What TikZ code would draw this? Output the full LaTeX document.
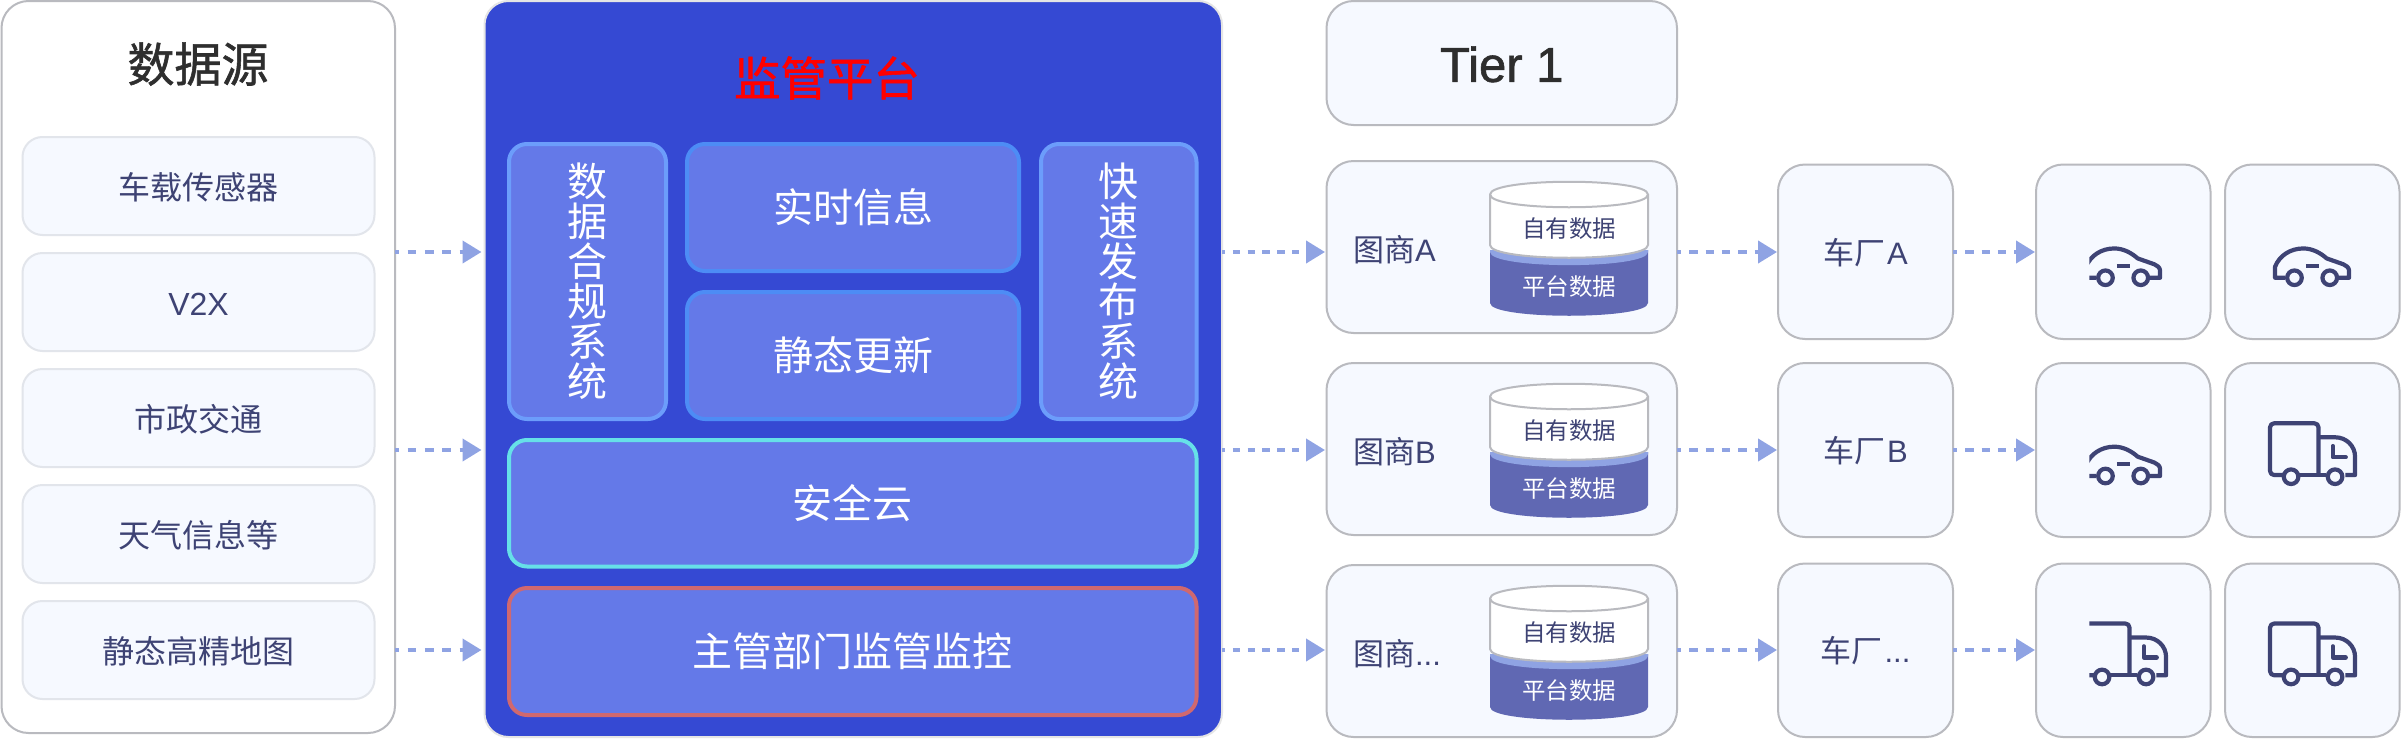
\documentclass[tikz,border=0pt]{standalone}
\usepackage{fontspec}
\usetikzlibrary{arrows.meta}
\newfontfamily\cjk{Noto Sans CJK SC}
\newfontfamily\cjkm{Noto Sans CJK SC}[FakeBold=1.2]
\newfontfamily\lat{Liberation Sans}
\newfontfamily\latm{Liberation Sans}[FakeBold=1.2]
\definecolor{ink}{HTML}{3E4374}
\definecolor{edge}{HTML}{B9BABF}
\definecolor{pale}{HTML}{F6F9FF}
\definecolor{flow}{HTML}{8FA3E3}
\definecolor{plat}{HTML}{3549D3}
\definecolor{tile}{HTML}{6479E8}
\definecolor{dbdark}{HTML}{6068B3}
\newcommand{\bx}[7]{\node[#6,minimum width={(#4-#2)*1pt},minimum height={(#5-#3)*1pt}] (#1) at ({(#2+#4)/2},{(#3+#5)/2}) {#7};}
\newcommand{\ctr}[1]{\raisebox{-0.41em}[0pt][0pt]{#1}}
\newcommand{\ctrT}[1]{\raisebox{-0.385em}[0pt][0pt]{#1}}
\tikzset{
  x=1pt,y=-1pt,
  every node/.style={inner sep=0pt,outer sep=0pt},
  panel/.style={draw=edge,line width=2pt,fill=pale,rounded corners=27pt},
  srcpanel/.style={panel,fill=white},
  srcitem/.style={draw=black!8!pale,line width=2pt,fill=pale,rounded corners=20pt,text=ink,font=\fontsize{32}{32}\selectfont\cjk},
  platpanel/.style={draw=black!10!white,line width=2pt,fill=plat,rounded corners=24pt},
  tilebox/.style={fill=tile,line width=4pt,rounded corners=18pt,text=white,align=center,font=\fontsize{40}{40}\selectfont\cjk},
  flowarrow/.style={draw=flow,line width=4pt,-{Triangle[length=19pt,width=22pt,fill=flow]}},
  tierlabel/.style={text=ink,font=\fontsize{31}{31}\selectfont\cjk},
  dblabel/.style={font=\fontsize{23.5}{24}\selectfont\cjk},
  icon/.style={draw=ink,line width=4.2pt,line join=round},
}
% cylinder, in the coordinates of the first row
\newcommand{\cylinder}[1]{\begin{scope}[shift={(0,#1)}]
  \path[fill=dbdark] (1490,250) -- (1490,303) .. controls (1490,320) and (1648,320) .. (1648,303) -- (1648,250) -- cycle;
  \path[fill=flow] (1490,250) -- (1490,252) .. controls (1490,269.5) and (1648,269.5) .. (1648,252) -- (1648,250) -- cycle;
  \path[draw=edge,line width=2pt,fill=white] (1490,194.5) -- (1490,245) .. controls (1490,262) and (1648,262) .. (1648,245) -- (1648,194.5) .. controls (1648,177.5) and (1490,177.5) .. (1490,194.5) -- cycle;
  \path[draw=edge,line width=2pt] (1490,194.5) .. controls (1490,211.5) and (1648,211.5) .. (1648,194.5);
  \node[dblabel,text=ink] (own#1) at (1569,228.5) {自有数据};
  \node[dblabel,text=white] (shared#1) at (1569,286.5) {平台数据};
\end{scope}}
\newcommand{\caricon}[2]{\begin{scope}[shift={(#1)}]
  #2
  \draw[icon] (-26.8,26) -- (-37.2,26) -- (-37.2,15) .. controls (-33,4) and (-22,-3.3) .. (-9,-3.3) .. controls (0,-3.3) and (8,1) .. (14.5,6.7) -- (31,12.5) .. controls (34,13.5) and (36.8,16) .. (36.8,19) -- (36.8,26) -- (26.8,26);
  \draw[icon] (-6.5,14) -- (7,14);
  \draw[icon] (-17.8,26) circle[radius=7.3pt];
  \draw[icon] (17.5,26) circle[radius=7.3pt];
\end{scope}}
\newcommand{\truckicon}[2]{\begin{scope}[shift={(#1)}]
  #2
  \draw[icon,rounded corners=4pt] (-29,25) -- (-42.2,25) -- (-42.2,-26.7) -- (6.2,-26.7) -- (6.2,25);
  \draw[icon] (-13,25) -- (14,25);
  \draw[icon] (6.2,-12.7) -- (23,-12.7) .. controls (34,-12.7) and (42.8,-4) .. (42.8,6.7) -- (42.8,25) -- (33,25);
  \draw[icon,line cap=round] (20.5,-4) -- (20.5,7.3) -- (33.5,7.3);
  \draw[icon] (-21.2,26.7) circle[radius=7.3pt];
  \draw[icon] (22.8,26.7) circle[radius=7.3pt];
\end{scope}}
\begin{document}
\begin{tikzpicture}
\useasboundingbox (0,0) rectangle (2401,739);
\fill[white] (0,0) rectangle (2401,739);
\coordinate (r1) at (0,252);
\coordinate (r2) at (0,450);
\coordinate (r3) at (0,650);
% sources
\bx{src}{1.5}{1}{395}{733}{srcpanel}{}
\node[text=black!82,font=\fontsize{47}{47}\selectfont\cjkm] (srctitle) at (198,64) {数据源};
\bx{s1}{22.5}{137}{374.5}{235}{srcitem}{\ctr{车载传感器}}
\bx{s2}{22.5}{253}{374.5}{351}{srcitem}{\ctr{\lat V2X}}
\bx{s3}{22.5}{369}{374.5}{467}{srcitem}{\ctr{市政交通}}
\bx{s4}{22.5}{485}{374.5}{583}{srcitem}{\ctr{天气信息等}}
\bx{s5}{22.5}{601}{374.5}{699}{srcitem}{\ctr{静态高精地图}}
% platform
\bx{platform}{484.5}{1}{1222}{737}{platpanel}{}
\node[text=red,font=\fontsize{46.5}{46.5}\selectfont\cjkm] (plattitle) at (827,78) {监管平台};
\definecolor{lineA}{HTML}{6C9DFB}\definecolor{lineB}{HTML}{4D8CF5}\definecolor{lineC}{HTML}{66E0E8}\definecolor{lineD}{HTML}{D0686F}
\bx{compl}{509}{144}{666}{419}{tilebox,draw=lineA}{数\\据\\合\\规\\系\\统}
\bx{live}{687}{144}{1019}{271}{tilebox,draw=lineB}{实时信息}
\bx{static}{687}{292}{1019}{419}{tilebox,draw=lineB}{静态更新}
\bx{fast}{1041}{144}{1196.5}{419}{tilebox,draw=lineA}{快\\速\\发\\布\\系\\统}
\bx{cloud}{509}{440}{1196.5}{566.5}{tilebox,draw=lineC}{安全云}
\bx{gov}{509}{588}{1196.5}{715}{tilebox,draw=lineD}{主管部门监管监控}
% tier 1
\bx{tier}{1326.5}{1}{1677}{125}{panel}{\color{black!82}\fontsize{49}{49}\selectfont\latm\ctrT{Tier 1}}
\bx{m1}{1326.5}{161}{1677}{333}{panel}{}
\bx{m2}{1326.5}{363}{1677}{535}{panel}{}
\bx{m3}{1326.5}{565}{1677}{737}{panel}{}
\node[tierlabel,anchor=west] (ml1) at (1353,249.5) {图商{\lat A}};
\node[tierlabel,anchor=west] (ml2) at (1353,452) {图商{\lat B}};
\node[tierlabel,anchor=west] (ml3) at (1353,653.5) {图商{\lat ...}};
\cylinder{0}
\cylinder{202}
\cylinder{404}
% oems
\bx{o1}{1778}{164.5}{1953}{339}{panel,tierlabel}{\ctr{车厂\hspace{2pt}{\lat A}}}
\bx{o2}{1778}{363}{1953}{537}{panel,tierlabel}{\ctr{车厂\hspace{2pt}{\lat B}}}
\bx{o3}{1778}{563.5}{1953}{737}{panel,tierlabel}{\ctr{车厂\hspace{2pt}{\lat ...}}}
% vehicles
\bx{c11}{2036}{164.5}{2210.5}{339}{panel}{}
\bx{c12}{2225}{164.5}{2399.5}{339}{panel}{}
\bx{c21}{2036}{363}{2210.5}{537}{panel}{}
\bx{c22}{2225}{363}{2399.5}{537}{panel}{}
\bx{c31}{2036}{563.5}{2210.5}{737}{panel}{}
\bx{c32}{2225}{563.5}{2399.5}{737}{panel}{}
\caricon{c11.center}{\clip (-34,-40) rectangle (60,60);}
\caricon{c12.center}{}
\caricon{c21.center}{\clip (-34,-40) rectangle (60,60);}
\truckicon{c22.center}{}
\truckicon{c31.center}{\clip (-34,-40) rectangle (60,60);}
\truckicon{c32.center}{}
% connectors
\foreach \r/\m/\o/\c in {r1/m1/o1/c11,r2/m2/o2/c21,r3/m3/o3/c31}{
  \draw[flowarrow,dash pattern=on 8.7pt off 8.7pt,dash phase=4.9pt,shorten >=3pt] (src.east |- \r) -- (platform.west |- \r);
  \draw[flowarrow,dash pattern=on 7.4pt off 7.4pt,dash phase=4pt,shorten >=1.5pt] (platform.east |- \r) -- (\m.west |- \r);
  \draw[flowarrow,dash pattern=on 8.3pt off 8pt,dash phase=4pt,shorten >=1pt] (\m.east |- \r) -- (\o.west |- \r);
  \draw[flowarrow,dash pattern=on 8.3pt off 8pt,dash phase=4pt,shorten >=1pt] (\o.east |- \r) -- (\c.west |- \r);
}
\end{tikzpicture}
\end{document}
